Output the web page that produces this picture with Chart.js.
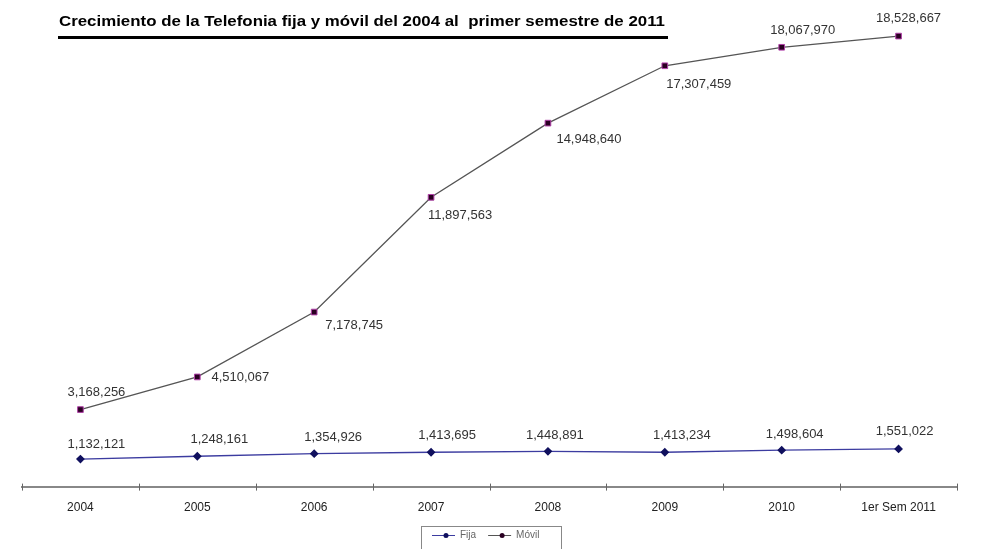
<!DOCTYPE html>
<html>
<head>
<meta charset="utf-8">
<script src="https://cdn.jsdelivr.net/npm/chart.js@4.4.0/dist/chart.umd.min.js"></script>
<style>
  html, body { margin: 0; padding: 0; background: #fff; }
  #wrap { width: 1000px; height: 549px; position: relative; }
</style>
</head>
<body>
<div id="wrap"><canvas id="myChart"></canvas></div>
<script>
// data
const years = ['2004', '2005', '2006', '2007', '2008', '2009', '2010', '1er Sem 2011'];
const fija = [1132121, 1248161, 1354926, 1413695, 1448891, 1413234, 1498604, 1551022];
const movil = [3168256, 4510067, 7178745, 11897563, 14948640, 17307459, 18067970, 18528667];
const chartTitle = 'Crecimiento de la Telefonia fija y móvil del 2004 al  primer semestre de 2011';

// where each value label sits relative to its point (dx, dy)
const fijaLabelPos = [[16, -15], [22, -17], [19, -16], [16, -17], [7, -16], [17, -17], [13, -16], [6, -17]];
const movilLabelPos = [[16, -17], [43, 0], [40, 13], [29, 18], [41, 16], [34, 19], [21, -17], [10, -18]];

const fmt = n => n.toLocaleString('en-US');

// title + underline, value labels and the boxed legend
const extras = {
  id: 'extras',
  afterDraw(chart) {
    const ctx = chart.ctx;
    ctx.save();
    // title (slightly stretched like the original)
    ctx.font = 'bold 15px "Liberation Sans", Arial, sans-serif';
    ctx.fillStyle = '#000';
    ctx.textBaseline = 'alphabetic';
    ctx.textAlign = 'left';
    const tw = ctx.measureText(chartTitle).width;
    ctx.save();
    ctx.translate(59, 26);
    ctx.scale(606 / tw, 1);
    ctx.fillText(chartTitle, 0, 0);
    ctx.restore();
    ctx.fillRect(58, 36, 610, 3);

    // value labels
    ctx.font = '13px "Liberation Sans", Arial, sans-serif';
    ctx.fillStyle = '#333';
    ctx.textAlign = 'center';
    ctx.textBaseline = 'middle';
    const pos = [fijaLabelPos, movilLabelPos];
    chart.data.datasets.forEach((ds, i) => {
      chart.getDatasetMeta(i).data.forEach((pt, j) => {
        ctx.fillText(fmt(ds.data[j]), pt.x + pos[i][j][0], pt.y + pos[i][j][1]);
      });
    });

    // legend
    const bx = 421, by = 526, bw = 140, bh = 30;
    ctx.strokeStyle = '#888';
    ctx.lineWidth = 1;
    ctx.strokeRect(bx + 0.5, by + 0.5, bw, bh);
    let x = bx + 11;
    const y = by + 9.5;
    chart.data.datasets.forEach(ds => {
      ctx.strokeStyle = ds.borderColor;
      ctx.beginPath();
      ctx.moveTo(x, y); ctx.lineTo(x + 23, y); ctx.stroke();
      ctx.fillStyle = ds.pointBackgroundColor;
      ctx.beginPath(); ctx.arc(x + 14, y, 2.5, 0, Math.PI * 2); ctx.fill();
      ctx.fillStyle = '#666';
      ctx.font = '10px "Liberation Sans", Arial, sans-serif';
      ctx.textAlign = 'left';
      ctx.fillText(ds.label, x + 28, y);
      x += 28 + ctx.measureText(ds.label).width + 12;
    });
    ctx.restore();
  }
};

const ctx = document.getElementById('myChart').getContext('2d');
const chart = new Chart(ctx, {
  type: 'line',
  data: {
    labels: years,
    datasets: [{
      label: 'Fija',
      data: fija,
      borderColor: '#3c3ca0',
      backgroundColor: '#10105e',
      pointBackgroundColor: '#10105e',
      pointBorderColor: '#10105e',
      pointStyle: 'rectRot',
      pointRadius: 3.5,
      borderWidth: 1.3,
      tension: 0
    }, {
      label: 'Móvil',
      data: movil,
      borderColor: '#555',
      backgroundColor: '#2a0022',
      pointBackgroundColor: '#2a0022',
      pointBorderColor: '#b040a8',
      pointStyle: 'rect',
      pointRadius: 4,
      pointBorderWidth: 1,
      borderWidth: 1.3,
      tension: 0
    }]
  },
  options: {
    responsive: true,
    maintainAspectRatio: false,
    animation: false,
    layout: { padding: { top: 20, left: 22, right: 43, bottom: 28 } },
    plugins: {
      legend: { display: false },
      title: { display: false },
      tooltip: { enabled: false }
    },
    scales: {
      x: {
        offset: true,
        grid: { display: false, drawOnChartArea: false },
        border: { display: true, color: '#888', width: 2 },
        ticks: {
          color: '#222',
          font: { size: 12, family: '"Liberation Sans", Arial, sans-serif' },
          padding: 6
        }
      },
      y: {
        display: false,
        min: 0,
        max: 19190000
      }
    }
  },
  plugins: [extras, {
    id: 'xticks',
    afterDraw(c) {
      // short tick marks at category boundaries
      const xs = c.scales.x, k = c.ctx;
      k.save();
      k.strokeStyle = '#666';
      k.lineWidth = 1;
      const y = xs.top;
      for (let i = 0; i <= years.length; i++) {
        const px = Math.round(xs.getPixelForValue(i - 0.5)) + 0.5;
        k.beginPath(); k.moveTo(px, y - 3); k.lineTo(px, y + 4); k.stroke();
      }
      k.restore();
    }
  }]
});
</script>
</body>
</html>
